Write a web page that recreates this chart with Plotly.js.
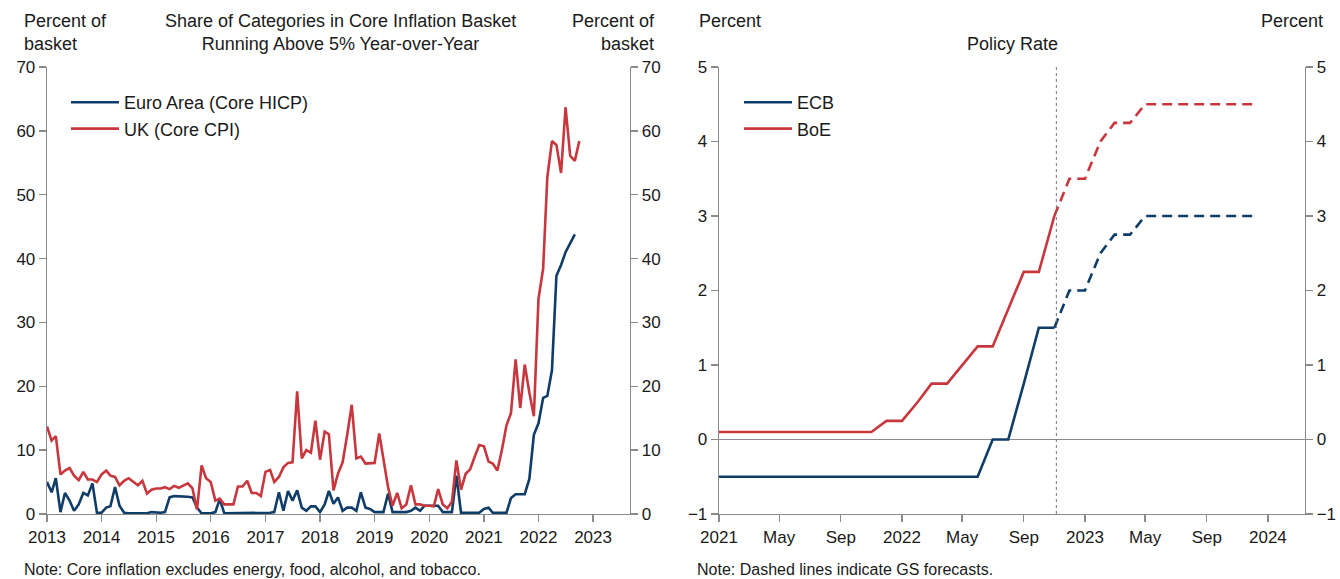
<!DOCTYPE html>
<html>
<head>
<meta charset="utf-8">
<script src="https://cdn.plot.ly/plotly-3.0.1.min.js"></script>
<style>html,body{margin:0;padding:0;background:#fff;}#chart{width:1340px;height:579px;}</style>
</head>
<body>
<div id="chart"></div>
<script>
// ---------- Left chart data (monthly, Jan 2013 onward) ----------
const startYear = 2013;
const ukCoreCPI = [
  13.7, 11.5, 12.2, 6.2, 6.8, 7.2, 6.0, 5.3, 6.6, 5.4, 5.4, 5.0,   // 2013
  6.2, 6.8, 6.0, 5.8, 4.5, 5.2, 5.6, 5.0, 4.5, 5.2, 3.2, 3.8,      // 2014
  4.0, 4.0, 4.2, 3.9, 4.4, 4.1, 4.4, 4.8, 4.0, 0.7, 7.6, 5.6,      // 2015
  5.0, 2.1, 2.4, 1.5, 1.5, 1.5, 4.3, 4.3, 5.2, 3.3, 3.3, 2.8,      // 2016
  6.6, 6.9, 5.0, 5.8, 7.3, 8.0, 8.1, 19.2, 8.7, 10.0, 9.6, 14.6,   // 2017
  8.5, 12.9, 12.5, 3.7, 6.3, 8.1, 12.3, 17.1, 8.7, 9.0, 7.9, 7.9,  // 2018
  8.0, 12.6, 8.9, 4.2, 1.3, 3.3, 0.9, 1.5, 4.5, 1.5, 1.5, 1.3,     // 2019
  1.3, 1.2, 3.9, 1.5, 0.9, 1.9, 8.4, 3.8, 6.3, 7.0, 9.0, 10.8,     // 2020
  10.6, 8.2, 7.9, 6.8, 10.0, 13.9, 15.8, 24.2, 16.6, 23.4, 19.0, 15.3, // 2021
  33.7, 38.4, 52.7, 58.4, 57.8, 53.4, 63.7, 56.1, 55.3, 58.4       // 2022
];
const euroCoreHICP = [
  5.0, 3.4, 5.6, 0.3, 3.3, 2.1, 0.5, 1.5, 3.3, 2.9, 4.8, 0.2,      // 2013
  0.2, 1.0, 1.2, 4.2, 1.3, 0.2, 0.1, 0.1, 0.1, 0.1, 0.1, 0.3,      // 2014
  0.2, 0.2, 0.3, 2.6, 2.8, 2.8, 2.8, 2.7, 2.6, 1.0, 0.1, 0.1,      // 2015
  0.1, 0.3, 2.3, 0.1, 0.1, 0.1, 0.1, 0.1, 0.1, 0.1, 0.1, 0.1,      // 2016
  0.2, 0.2, 0.3, 3.4, 0.5, 3.6, 2.1, 3.7, 1.0, 0.5, 1.2, 1.2,      // 2017
  0.3, 1.5, 3.6, 1.6, 2.6, 0.5, 1.0, 1.0, 0.5, 3.4, 1.0, 0.8,      // 2018
  0.3, 0.3, 0.3, 3.2, 0.3, 0.3, 0.3, 0.3, 0.5, 1.0, 0.5, 1.3,      // 2019
  1.3, 1.3, 1.3, 0.3, 0.3, 0.3, 6.0, 0.2, 0.2, 0.2, 0.2, 0.2,      // 2020
  0.8, 1.0, 0.2, 0.2, 0.2, 0.2, 2.5, 3.1, 3.1, 3.1, 5.5, 12.4,     // 2021
  14.2, 18.2, 18.5, 22.5, 37.3, 39.0, 41.0, 42.5, 43.8             // 2022
];
const leftYearTicks = ['2013','2014','2015','2016','2017','2018','2019','2020','2021','2022','2023'];

// ---------- Right chart data ----------
const solidDates = ['2021-01-01','2021-02-01','2021-03-01','2021-04-01','2021-05-01','2021-06-01','2021-07-01','2021-08-01','2021-09-01','2021-10-01','2021-11-01','2021-12-01',
  '2022-01-01','2022-02-01','2022-03-01','2022-04-01','2022-05-01','2022-06-01','2022-07-01','2022-08-01','2022-09-01','2022-10-01','2022-11-01'];
const ecbActual = [-0.5,-0.5,-0.5,-0.5,-0.5,-0.5,-0.5,-0.5,-0.5,-0.5,-0.5,-0.5,
  -0.5,-0.5,-0.5,-0.5,-0.5,-0.5,0,0,0.75,1.5,1.5];
const boeActual = [0.1,0.1,0.1,0.1,0.1,0.1,0.1,0.1,0.1,0.1,0.1,0.25,
  0.25,0.5,0.75,0.75,1.0,1.25,1.25,1.75,2.25,2.25,3.0];
const fcstDates = ['2022-11-01','2022-12-01','2023-01-01','2023-02-01','2023-03-01','2023-04-01','2023-05-01','2023-06-01','2023-07-01','2023-08-01','2023-09-01','2023-10-01','2023-11-01','2023-12-01'];
const ecbForecast = [1.5,2.0,2.0,2.5,2.75,2.75,3.0,3.0,3.0,3.0,3.0,3.0,3.0,3.0];
const boeForecast = [3.0,3.5,3.5,4.0,4.25,4.25,4.5,4.5,4.5,4.5,4.5,4.5,4.5,4.5];
const forecastStart = '2022-11-05';
const rightTickVals = ['2021-01-01','2021-05-01','2021-09-01','2022-01-01','2022-05-01','2022-09-01','2023-01-01','2023-05-01','2023-09-01','2024-01-01'];
const rightTickText = ['2021','May','Sep','2022','May','Sep','2023','May','Sep','2024'];

// ---------- helpers ----------
function monthDates(n){
  const out=[];
  for(let i=0;i<n;i++){
    const y=startYear+Math.floor(i/12), m=(i%12)+1;
    out.push(y+'-'+(m<10?'0':'')+m+'-01');
  }
  return out;
}
const W=1340,H=579;
const px=x=>x/W, py=y=>1-y/H;

const BLUE='#0f3d68', RED='#c7373d', AX='#8a8a8a', TXT='#1a1a1a';
const FONT='Liberation Sans, Arial, sans-serif';
const FS=18;
const DASH='10px,6px';

const traces=[
  {x:monthDates(euroCoreHICP.length), y:euroCoreHICP, type:'scatter', mode:'lines', name:'Euro Area (Core HICP)',
   line:{color:BLUE,width:2.6}, xaxis:'x', yaxis:'y', legend:'legend'},
  {x:monthDates(ukCoreCPI.length), y:ukCoreCPI, type:'scatter', mode:'lines', name:'UK (Core CPI)',
   line:{color:RED,width:2.6}, xaxis:'x', yaxis:'y', legend:'legend'},
  {x:[leftYearTicks[0]+'-01-01'], y:[0], type:'scatter', mode:'lines', showlegend:false, hoverinfo:'skip',
   line:{width:0}, opacity:0, xaxis:'x', yaxis:'y3'},

  {x:solidDates, y:ecbActual, type:'scatter', mode:'lines', name:'ECB', line:{color:BLUE,width:2.6},
   xaxis:'x2', yaxis:'y2', legend:'legend2'},
  {x:solidDates, y:boeActual, type:'scatter', mode:'lines', name:'BoE', line:{color:RED,width:2.6},
   xaxis:'x2', yaxis:'y2', legend:'legend2'},
  {x:fcstDates, y:ecbForecast, type:'scatter', mode:'lines', name:'ECB forecast', showlegend:false,
   line:{color:BLUE,width:2.6,dash:DASH}, xaxis:'x2', yaxis:'y2'},
  {x:fcstDates, y:boeForecast, type:'scatter', mode:'lines', name:'BoE forecast', showlegend:false,
   line:{color:RED,width:2.6,dash:DASH}, xaxis:'x2', yaxis:'y2'},
  {x:[solidDates[0]], y:[0], type:'scatter', mode:'lines', showlegend:false, hoverinfo:'skip',
   line:{width:0}, opacity:0, xaxis:'x2', yaxis:'y4'}
];

const tickFont={family:FONT,size:17,color:TXT};
const yDom=[py(514),py(67)];
const baseAxis={showgrid:false,zeroline:false,showline:true,linecolor:AX,linewidth:1.3,ticks:'outside',
  ticklen:7,tickcolor:AX,tickwidth:1.3,tickfont:tickFont,fixedrange:true};

const layout={
  width:W,height:H,margin:{l:0,r:0,t:0,b:0},paper_bgcolor:'#fff',plot_bgcolor:'rgba(0,0,0,0)',
  font:{family:FONT,size:FS,color:TXT},
  xaxis:Object.assign({},baseAxis,{domain:[px(47),px(630)],anchor:'y',type:'date',
    range:['2013-01-01','2023-09-05'],tickvals:leftYearTicks.map(y=>y+'-01-01'),ticktext:leftYearTicks}),
  yaxis:Object.assign({},baseAxis,{domain:yDom,anchor:'x',range:[0,70],dtick:10,tick0:0,side:'left'}),
  yaxis3:Object.assign({},baseAxis,{overlaying:'y',anchor:'x',side:'right',range:[0,70],dtick:10,tick0:0}),

  xaxis2:Object.assign({},baseAxis,{domain:[px(719),px(1305)],anchor:'y2',type:'date',
    range:['2021-01-01','2024-03-15'],tickvals:rightTickVals,ticktext:rightTickText}),
  yaxis2:Object.assign({},baseAxis,{domain:yDom,anchor:'x2',range:[-1,5],dtick:1,tick0:0,side:'left',
    zeroline:true,zerolinecolor:AX,zerolinewidth:1}),
  yaxis4:Object.assign({},baseAxis,{overlaying:'y2',anchor:'x2',side:'right',range:[-1,5],dtick:1,tick0:0}),

  legend:{x:px(66),y:py(84),xanchor:'left',yanchor:'top',bgcolor:'rgba(0,0,0,0)',
    font:{family:FONT,size:FS,color:TXT},tracegroupgap:0,itemwidth:48},
  legend2:{x:px(739),y:py(84),xanchor:'left',yanchor:'top',bgcolor:'rgba(0,0,0,0)',
    font:{family:FONT,size:FS,color:TXT},tracegroupgap:0,itemwidth:48},

  shapes:[
    {type:'line',xref:'x2',yref:'y2',x0:forecastStart,x1:forecastStart,y0:-1,y1:5,
     line:{color:'#777',width:1,dash:'dot'}}
  ],
  annotations:[
    {text:'Percent of<br>basket',xref:'paper',yref:'paper',x:px(22),y:py(9),xanchor:'left',yanchor:'top',align:'left',showarrow:false,font:{family:FONT,size:FS,color:TXT}},
    {text:'Share of Categories in Core Inflation Basket<br>Running Above 5% Year-over-Year',xref:'paper',yref:'paper',x:px(340),y:py(9),xanchor:'center',yanchor:'top',align:'center',showarrow:false,font:{family:FONT,size:FS,color:TXT}},
    {text:'Percent of<br>basket',xref:'paper',yref:'paper',x:px(657),y:py(9),xanchor:'right',yanchor:'top',align:'right',showarrow:false,font:{family:FONT,size:FS,color:TXT}},
    {text:'Percent',xref:'paper',yref:'paper',x:px(697),y:py(9),xanchor:'left',yanchor:'top',align:'left',showarrow:false,font:{family:FONT,size:FS,color:TXT}},
    {text:'Percent',xref:'paper',yref:'paper',x:px(1325),y:py(9),xanchor:'right',yanchor:'top',align:'right',showarrow:false,font:{family:FONT,size:FS,color:TXT}},
    {text:'Policy Rate',xref:'paper',yref:'paper',x:px(1012),y:py(44),xanchor:'center',yanchor:'middle',showarrow:false,font:{family:FONT,size:FS,color:TXT}},
    {text:'Note: Core inflation excludes energy, food, alcohol, and tobacco.',xref:'paper',yref:'paper',x:px(22),y:py(569),xanchor:'left',yanchor:'middle',showarrow:false,font:{family:FONT,size:16,color:TXT}},
    {text:'Note: Dashed lines indicate GS forecasts.',xref:'paper',yref:'paper',x:px(695),y:py(569),xanchor:'left',yanchor:'middle',showarrow:false,font:{family:FONT,size:16,color:TXT}}
  ]
};

Plotly.newPlot('chart',traces,layout,{displayModeBar:false,staticPlot:true});
</script>
</body>
</html>
